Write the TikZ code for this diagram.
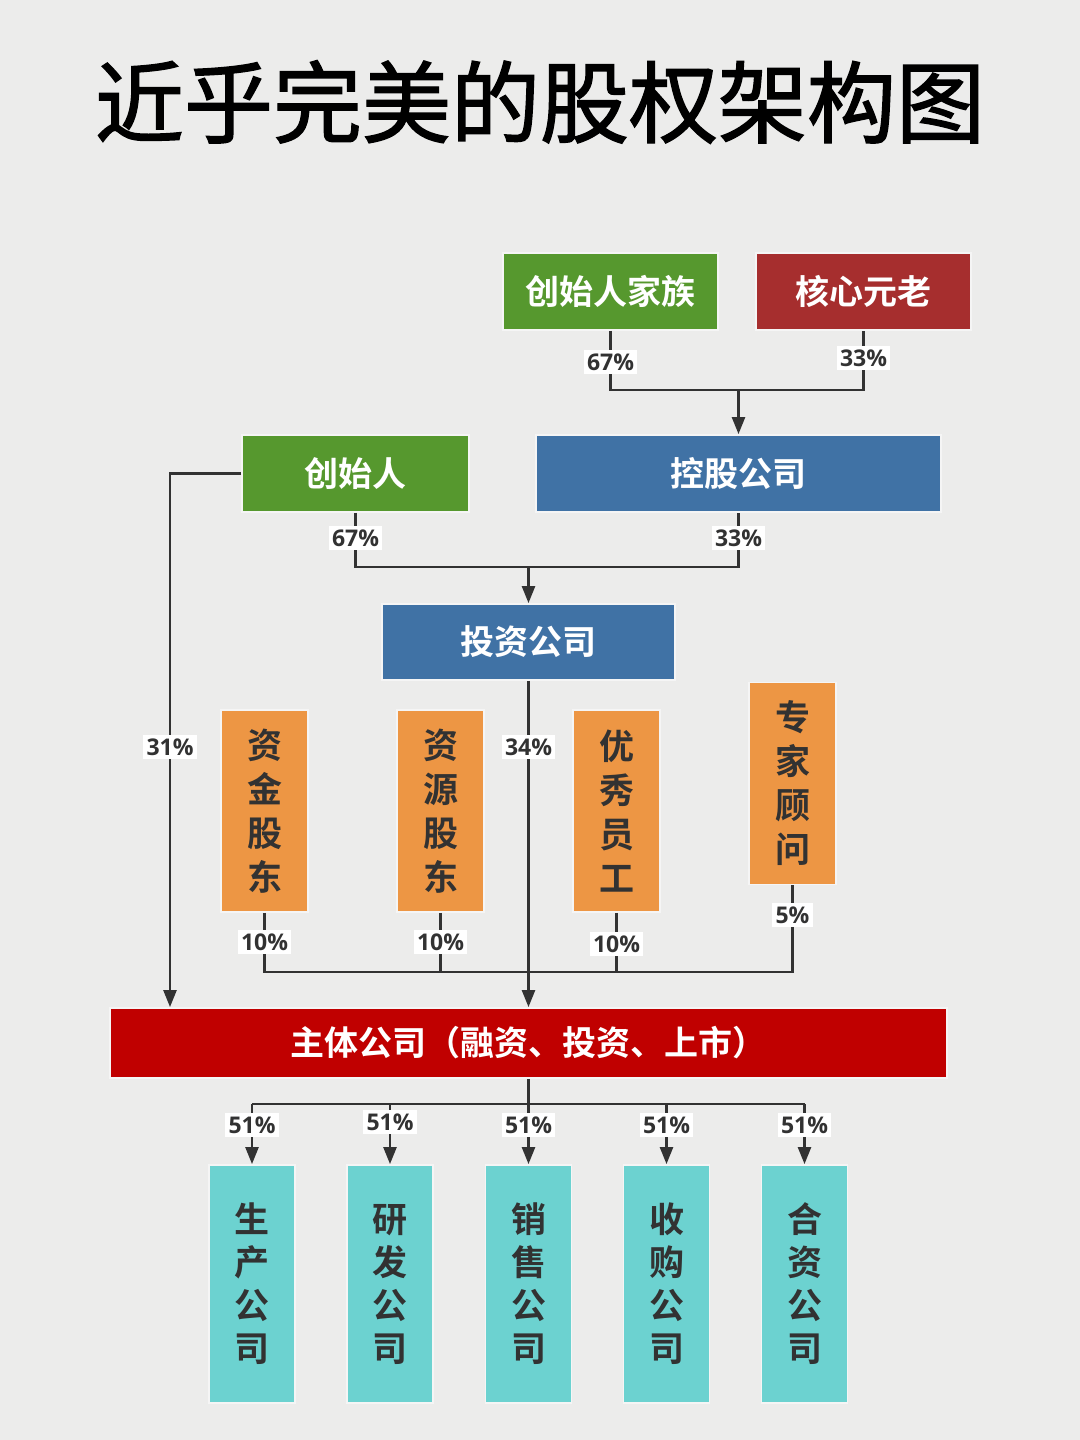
\documentclass[tikz,border=0pt]{standalone}
\usepackage{fontspec}
\setmainfont{Noto Sans CJK SC}[BoldFont={* Bold}]
\newfontfamily\titlefont{Noto Sans CJK SC}[FakeBold=1.6]
\newfontfamily\pctfont{Open Sans}
\usetikzlibrary{arrows.meta}
\definecolor{bg}{RGB}{236,236,235}
\definecolor{grn}{RGB}{86,152,46}
\definecolor{dred}{RGB}{166,46,46}
\definecolor{blu}{RGB}{64,114,165}
\definecolor{org}{RGB}{237,150,68}
\definecolor{red2}{RGB}{192,0,0}
\definecolor{cyn}{RGB}{108,210,208}
\definecolor{ln}{RGB}{50,50,50}
\begin{document}
\begin{tikzpicture}[x=0.5pt,y=-0.5pt,
  box/.style={draw=white!92!gray, line width=0.9pt, inner sep=0pt, text=white, font=\bfseries\fontsize{17}{20}\selectfont},
  vbox/.style={box, align=center, text=ln, minimum width=43.5pt, minimum height=101pt, font=\bfseries\fontsize{17.5}{22}\selectfont},
  cbox/.style={box, align=center, text=ln, fill=cyn, minimum width=43pt, minimum height=119pt, font=\bfseries\fontsize{17.5}{21.5}\selectfont},
  pct/.style={fill=white, inner sep=1.6pt, text=ln, font=\pctfont\bfseries\fontsize{11.5}{12}\selectfont},
  conn/.style={draw=ln, line width=1.2pt},
  arr/.style={conn, -{Triangle[length=8.5pt,width=6.5pt]}}]
\fill[bg] (0,0) rectangle (1080,1440);
\useasboundingbox (0,0) rectangle (1080,1440);

\node[font=\titlefont\fontsize{44.5}{48}\selectfont, text=black] (title) at (540,102) {近乎完美的股权架构图};

% top level
\node[box, fill=grn, minimum width=107.5pt, minimum height=38.5pt] (cjz) at (610.5,291.5) {创始人家族};
\node[box, fill=dred, minimum width=107.5pt, minimum height=38.5pt] (hxyl) at (863.5,291.5) {核心元老};
\node[box, fill=blu, minimum width=202.5pt, minimum height=38.5pt] (kg) at (738.5,473.5) {控股公司};
\node[box, fill=grn, minimum width=113.5pt, minimum height=38.5pt] (csr) at (355.5,473.5) {创始人};
\node[box, fill=blu, minimum width=146.5pt, minimum height=38pt] (tz) at (528.5,642) {投资公司};

% orange vertical boxes
\node[vbox, fill=org] (o1) at (264.5,811) {资\\金\\股\\东};
\node[vbox, fill=org] (o2) at (440.5,811) {资\\源\\股\\东};
\node[vbox, fill=org] (o3) at (616.5,811) {优\\秀\\员\\工};
\node[vbox, fill=org] (o4) at (792.5,783.5) {专\\家\\顾\\问};

% main company
\node[box, fill=red2, minimum width=418.5pt, minimum height=35pt] (zt) at (528.5,1043) {主体公司（融资、投资、上市）};

% bottom boxes
\node[cbox] (b1) at (252,1284) {生\\产\\公\\司};
\node[cbox] (b2) at (390,1284) {研\\发\\公\\司};
\node[cbox] (b3) at (528.5,1284) {销\\售\\公\\司};
\node[cbox] (b4) at (666.5,1284) {收\\购\\公\\司};
\node[cbox] (b5) at (804.5,1284) {合\\资\\公\\司};

% junction coordinates
\coordinate (j1) at (738.5,390);
\coordinate (j2) at (528.5,567);
\coordinate (j3) at (170,473.5);
\coordinate (j4) at (528.5,972);
\coordinate (j5) at (528.5,1104);

% connectors level 1
\draw[conn] (cjz.south) |- (j1) -| (hxyl.south);
\draw[arr] (j1) -- (kg.north);
\node[pct] (p1) at (610.5,362) {67\%};
\node[pct] (p2) at (863.5,358) {33\%};

% connectors level 2
\draw[conn] (csr.south) |- (j2) -| (kg.south);
\draw[arr] (j2) -- (tz.north);
\node[pct] (p3) at (355.5,538) {67\%};
\node[pct] (p4) at (738.5,538) {33\%};

% founder direct
\draw[arr] (csr.west) -- (j3) -- (j3 |- zt.north);
\node[pct] (p5) at (170,747) {31\%};

% investment company
\draw[arr] (tz.south) -- (zt.north);
\node[pct] (p6) at (528.5,747) {34\%};

% orange to main
\draw[conn] (o1.south) |- (o4.south |- j4) -- (o4.south);
\draw[conn] (o2.south) -- (o2.south |- j4);
\draw[conn] (o3.south) -- (o3.south |- j4);
\node[pct] (p7) at (264.5,942) {10\%};
\node[pct] (p8) at (440.5,942) {10\%};
\node[pct] (p9) at (616.5,944) {10\%};
\node[pct] (p10) at (792.5,915) {5\%};

% main to subsidiaries
\draw[conn] (zt.south) -- (j5);
\draw[conn] (b1.north |- j5) -- (b5.north |- j5);
\foreach \b in {b1,b2,b3,b4,b5}{
  \draw[arr] (\b.north |- j5) -- (\b.north);
}
\node[pct] (q1) at (252,1125) {51\%};
\node[pct] (q2) at (390,1122) {51\%};
\node[pct] (q3) at (528.5,1125) {51\%};
\node[pct] (q4) at (666.5,1125) {51\%};
\node[pct] (q5) at (804.5,1125) {51\%};
\end{tikzpicture}
\end{document}
